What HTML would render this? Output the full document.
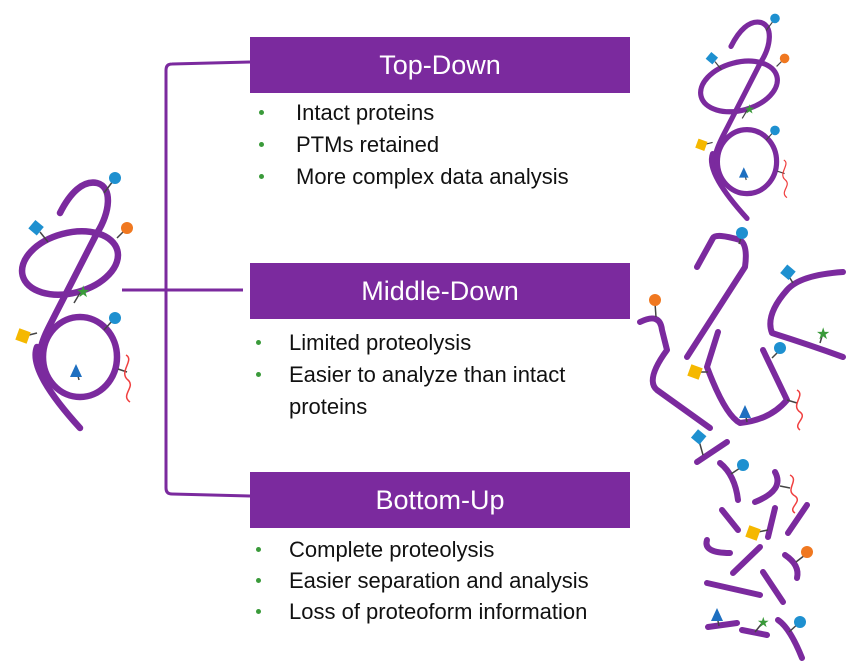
<!DOCTYPE html>
<html><head><meta charset="utf-8"><style>
body{margin:0;width:850px;height:671px;background:#fff;overflow:hidden;position:relative;font-family:"Liberation Sans",Arial,sans-serif}
.box{position:absolute;left:250px;width:380px;height:56px;background:#7b2a9e;color:#fff;font-size:27px;text-align:center;line-height:56px}
.t{position:absolute;font-size:22px;color:#111;white-space:nowrap;line-height:31px}
.b{position:absolute;width:5px;height:5px;border-radius:50%;background:#3a9a3a}
svg{position:absolute;left:0;top:0}
</style></head><body>
<svg width="850" height="671" viewBox="0 0 850 671">
<defs>
<g id="prot">
<g fill="none" stroke="#7b2a9e" stroke-width="6.5" stroke-linecap="round">
<path d="M60,213 C70,193 83,180 97,183 C113,187 110,213 97,233 L55,315 C45,335 35,350 42,375"/>
<ellipse cx="70" cy="263" rx="49" ry="30" transform="rotate(-15 70 263)"/>
<ellipse cx="80" cy="357" rx="37" ry="40"/>
<path d="M37,347 C30,365 50,395 80,428"/>
</g>
<g stroke="#444" stroke-width="1.5">
<line x1="104" y1="193" x2="113" y2="181"/><line x1="40" y1="232" x2="48" y2="242"/>
<line x1="117" y1="238" x2="125" y2="230"/><line x1="74" y1="303" x2="80" y2="293"/>
<line x1="104" y1="330" x2="113" y2="320"/><line x1="25" y1="336" x2="37" y2="333"/>
<line x1="79" y1="380" x2="77" y2="372"/><line x1="118" y1="369" x2="127" y2="372"/>
</g>
<circle cx="115" cy="178" r="6" fill="#1e90d0"/>
<rect x="31" y="222" width="11" height="11" fill="#1e90d0" transform="rotate(40 36 227)"/>
<circle cx="127" cy="228" r="6" fill="#f07820"/>
<text x="76" y="297" font-size="16" fill="#3a9a3a" font-family="DejaVu Sans">★</text>
<circle cx="115" cy="318" r="6" fill="#1e90d0"/>
<rect x="17" y="330" width="12" height="12" fill="#f5b800" transform="rotate(20 23 336)"/>
<polygon points="76,364 70,377 82,377" fill="#1e6fc0"/>
<path d="M126,355 C135,360 118,372 128,380 C136,387 120,395 130,402" fill="none" stroke="#f04040" stroke-width="1.5"/>
</g>
</defs>
<g fill="none" stroke="#7b2a9e" stroke-width="3">
<path d="M250,62 L172,64 Q166,64 166,70 L166,488 Q166,494 172,494 L250,496"/>
<line x1="122" y1="290" x2="243" y2="290"/>
</g>
<use href="#prot"/>
<use href="#prot" transform="translate(683,-124) scale(0.8)"/>
<g fill="none" stroke="#7b2a9e" stroke-width="6" stroke-linecap="round" stroke-linejoin="round">
<path d="M697,267 L713,238 Q716,233 740,240 Q748,245 745,267 L687,357"/>
<path d="M640,322 Q660,312 662,330 L667,350 Q645,380 657,390 L710,428"/>
<path d="M718,332 L707,367 Q725,415 740,423 Q770,420 787,400 L763,350"/>
<path d="M843,272 Q800,275 787,290 Q765,315 772,333 Q810,345 843,357"/>
<path d="M697,462 L727,442"/><path d="M720,463 Q735,475 738,500"/>
<path d="M775,472 Q785,490 755,502"/><path d="M722,510 L738,530"/>
<path d="M775,508 L768,537"/><path d="M807,505 L788,533"/>
<path d="M707,540 Q703,553 730,553"/><path d="M760,547 L733,573"/>
<path d="M785,555 Q800,565 797,578"/><path d="M707,583 L760,595"/>
<path d="M763,572 L783,602"/><path d="M708,627 L737,623"/>
<path d="M742,630 L767,635"/><path d="M778,620 Q790,628 802,658"/>
</g>
<g stroke="#444" stroke-width="1.5">
<line x1="742" y1="235" x2="739" y2="244"/><line x1="655" y1="303" x2="656" y2="317"/>
<line x1="700" y1="372" x2="708" y2="372"/><line x1="780" y1="350" x2="772" y2="358"/>
<line x1="788" y1="275" x2="793" y2="283"/><line x1="823" y1="333" x2="820" y2="343"/>
<line x1="698" y1="437" x2="703" y2="455"/><line x1="743" y1="466" x2="731" y2="474"/>
<line x1="790" y1="488" x2="780" y2="486"/><line x1="753" y1="533" x2="768" y2="530"/>
<line x1="805" y1="555" x2="796" y2="562"/><line x1="717" y1="616" x2="719" y2="626"/>
<line x1="763" y1="622" x2="755" y2="632"/><line x1="800" y1="622" x2="789" y2="632"/>
<line x1="797" y1="403" x2="787" y2="400"/><line x1="745" y1="412" x2="747" y2="422"/>
</g>
<g fill="#1e90d0">
<circle cx="742" cy="233" r="6"/><circle cx="780" cy="348" r="6"/><circle cx="743" cy="465" r="6"/><circle cx="800" cy="622" r="6"/>
<rect x="782" y="267" width="11" height="11" transform="rotate(40 788 273)"/>
<rect x="693" y="431" width="11" height="11" transform="rotate(40 698 437)"/>
</g>
<circle cx="655" cy="300" r="6" fill="#f07820"/><circle cx="807" cy="552" r="6" fill="#f07820"/>
<rect x="689" y="366" width="12" height="12" fill="#f5b800" transform="rotate(20 695 372)"/>
<rect x="747" y="527" width="12" height="12" fill="#f5b800" transform="rotate(20 753 533)"/>
<polygon points="745,405 739,418 751,418" fill="#1e6fc0"/>
<polygon points="717,608 711,621 723,621" fill="#1e6fc0"/>
<text x="816" y="339" font-size="16" fill="#3a9a3a" font-family="DejaVu Sans">★</text>
<text x="757" y="627" font-size="14" fill="#3a9a3a" font-family="DejaVu Sans">★</text>
<g fill="none" stroke="#f04040" stroke-width="1.5">
<path d="M797,390 C806,395 790,405 800,412 C808,418 792,424 800,430"/>
<path d="M790,475 C800,480 784,490 795,496 C803,502 787,508 795,513"/>
</g>
</svg>
<div class="box" style="top:37px">Top-Down</div>
<div class="box" style="top:263px">Middle-Down</div>
<div class="box" style="top:472px">Bottom-Up</div>
<div class="b" style="left:259px;top:110px"></div><div class="t" style="left:296px;top:97px">Intact proteins</div>
<div class="b" style="left:259px;top:142px"></div><div class="t" style="left:296px;top:129px">PTMs retained</div>
<div class="b" style="left:259px;top:174px"></div><div class="t" style="left:296px;top:161px">More complex data analysis</div>
<div class="b" style="left:256px;top:340px"></div><div class="t" style="left:289px;top:327px">Limited proteolysis</div>
<div class="b" style="left:256px;top:372px"></div><div class="t" style="left:289px;top:359px">Easier to analyze than intact</div>
<div class="t" style="left:289px;top:391px">proteins</div>
<div class="b" style="left:256px;top:547px"></div><div class="t" style="left:289px;top:534px">Complete proteolysis</div>
<div class="b" style="left:256px;top:578px"></div><div class="t" style="left:289px;top:565px">Easier separation and analysis</div>
<div class="b" style="left:256px;top:609px"></div><div class="t" style="left:289px;top:596px">Loss of proteoform information</div>
</body></html>
